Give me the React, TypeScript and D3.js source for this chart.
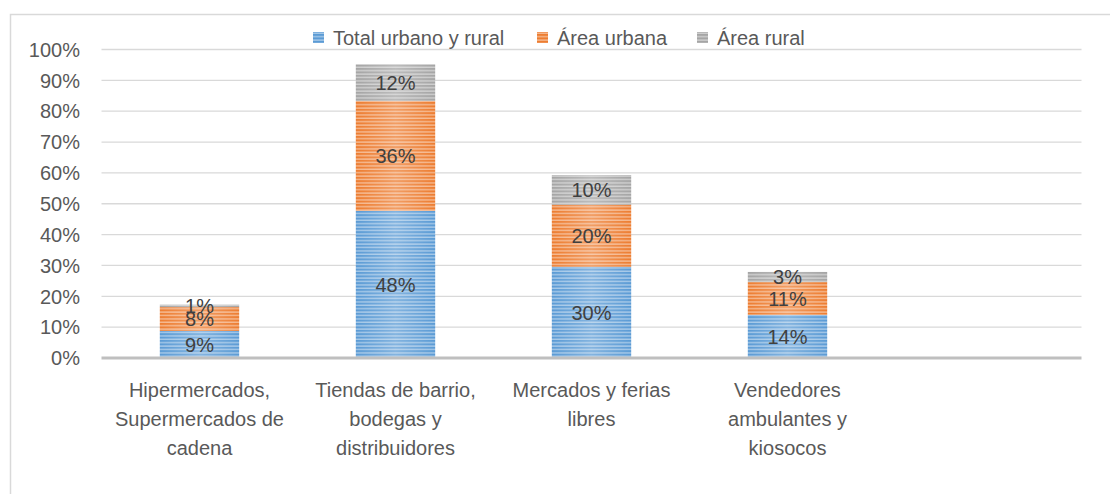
import React from "react";
import * as d3 from "d3";

const categories: string[][] = [
  ["Hipermercados,", "Supermercados de", "cadena"],
  ["Tiendas de barrio,", "bodegas y", "distribuidores"],
  ["Mercados y ferias", "libres"],
  ["Vendedores", "ambulantes y", "kiosocos"],
  [""],
];
const seriesNames = ["Total urbano y rural", "Área urbana", "Área rural"];
const totalUrbanoRural = [0.088, 0.477, 0.296, 0.14, 0];
const areaUrbana = [0.077, 0.356, 0.201, 0.106, 0];
const areaRural = [0.008, 0.119, 0.096, 0.033, 0];
const yTicks = [0, 0.1, 0.2, 0.3, 0.4, 0.5, 0.6, 0.7, 0.8, 0.9, 1.0];
const colors = ["#5b9bd5", "#ed7d31", "#a5a5a5"];

export default function App() {
  const W = 1110, H = 494;
  const x = d3.scaleBand<number>().domain(d3.range(categories.length)).range([101.5, 1081.5]).padding(0);
  const y = d3.scaleLinear().domain([0, 1]).range([358, 49.5]);
  const barW = x.bandwidth() * 0.405;
  const rows = categories.map((_, i) => ({ i, a: totalUrbanoRural[i], b: areaUrbana[i], c: areaRural[i] }));
  const stack = d3.stack<any>().keys(["a", "b", "c"])(rows);
  const fmt = d3.format(".0%");
  const font = "'Liberation Sans', Arial, sans-serif";
  const legendX = [313, 537, 697];

  return (
    <svg width={W} height={H} style={{ position: "absolute", left: 0, top: 0, background: "#fff" }} fontFamily={font}>
      <defs>
        {colors.map((c, k) => (
          <pattern key={k} id={`p${k}`} width={8} height={3.4} patternUnits="userSpaceOnUse">
            <rect width={8} height={3.4} fill={c} />
            <rect y={2} width={8} height={1.4} fill={d3.interpolateRgb(c, "#ffffff")(0.45)} />
          </pattern>
        ))}
        <linearGradient id="shine" x1="0" x2="1" y1="0" y2="0">
          <stop offset="0" stopColor="#fff" stopOpacity={0} />
          <stop offset="0.5" stopColor="#fff" stopOpacity={0.25} />
          <stop offset="1" stopColor="#fff" stopOpacity={0} />
        </linearGradient>
      </defs>
      <rect x={10.5} y={14.5} width={W + 10} height={H + 10} fill="#fff" stroke="#d9d9d9" strokeWidth={1.5} />
      {yTicks.map((t) => (
        <g key={t}>
          {t > 0 && <line x1={101.5} x2={1081.5} y1={y(t)} y2={y(t)} stroke="#d9d9d9" strokeWidth={1.3} />}
          <text x={80} y={y(t)} dy="0.36em" textAnchor="end" fontSize={20} fill="#595959">{fmt(t)}</text>
        </g>
      ))}
      {stack.map((s, k) =>
        s.map((d, i) => {
          const v = d[1] - d[0];
          if (v <= 0) return null;
          const bx = (x(i) as number) + (x.bandwidth() - barW) / 2;
          return (
            <g key={`${k}-${i}`}>
              <rect x={bx} y={y(d[1])} width={barW} height={y(d[0]) - y(d[1])} fill={`url(#p${k})`} />
              <rect x={bx} y={y(d[1])} width={barW} height={y(d[0]) - y(d[1])} fill="url(#shine)" />
            </g>
          );
        })
      )}
      {stack.map((s, k) =>
        s.map((d, i) => {
          const v = d[1] - d[0];
          if (v <= 0) return null;
          const cx = (x(i) as number) + x.bandwidth() / 2;
          return (
            <text key={`l${k}-${i}`} x={cx} y={y((d[0] + d[1]) / 2)} dy="0.36em" textAnchor="middle" fontSize={20} fill="#404040">
              {fmt(v)}
            </text>
          );
        })
      )}
      <line x1={101.5} x2={1081.5} y1={y(0)} y2={y(0)} stroke="#bfbfbf" strokeWidth={3} />
      {categories.map((lines, i) => (
        <text key={i} x={(x(i) as number) + x.bandwidth() / 2} y={390} textAnchor="middle" fontSize={20} fill="#595959">
          {lines.map((l, j) => (
            <tspan key={j} x={(x(i) as number) + x.bandwidth() / 2} dy={j === 0 ? "0.36em" : 29}>{l}</tspan>
          ))}
        </text>
      ))}
      {seriesNames.map((n, k) => (
        <g key={n}>
          <rect x={legendX[k]} y={32} width={11} height={11} fill={`url(#p${k})`} />
          <text x={legendX[k] + 20} y={38} dy="0.36em" fontSize={20} fill="#595959">{n}</text>
        </g>
      ))}
    </svg>
  );
}
